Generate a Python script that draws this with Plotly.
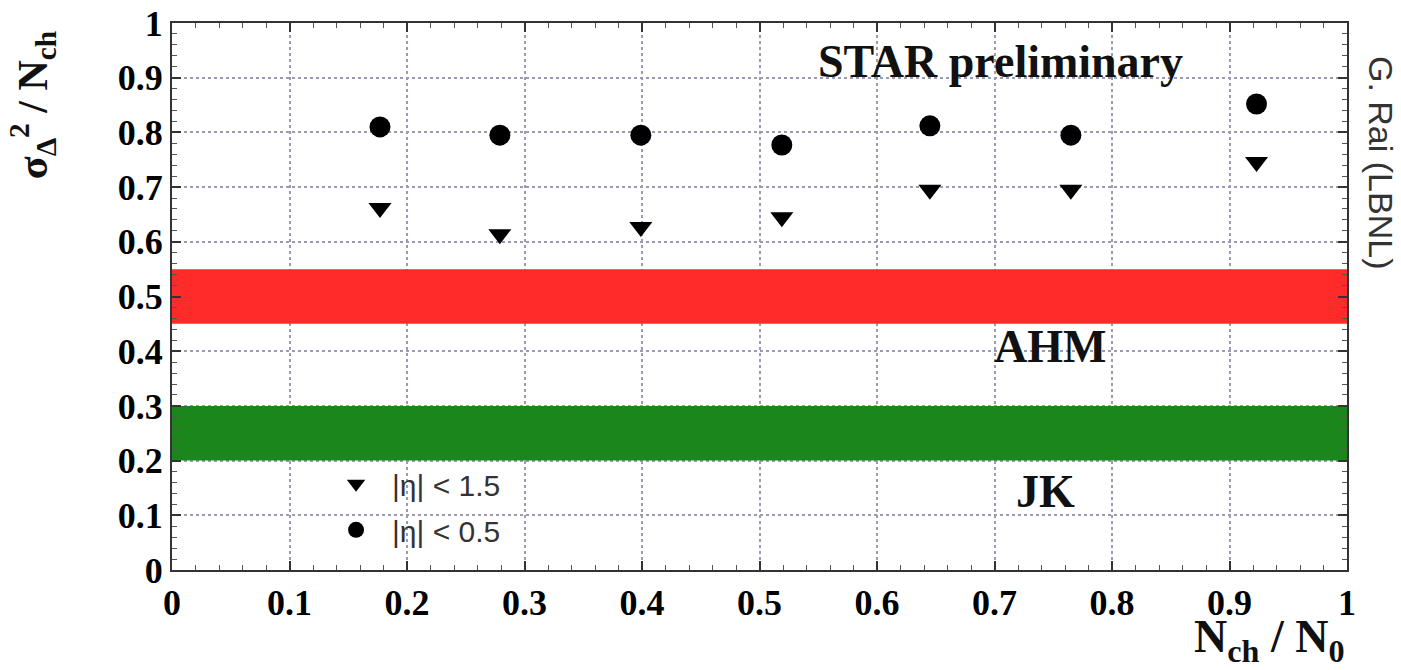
import plotly.graph_objects as go

# Data
n_ratio = [0.177, 0.279, 0.399, 0.519, 0.645, 0.765, 0.923]
eta15 = [0.662, 0.614, 0.627, 0.645, 0.695, 0.695, 0.746]   # |eta| < 1.5 (triangles)
eta05 = [0.810, 0.795, 0.795, 0.777, 0.812, 0.795, 0.852]   # |eta| < 0.5 (circles)

ahm_band = [0.45, 0.55]
jk_band = [0.20, 0.30]
tick_vals = [round(0.1 * i, 1) for i in range(11)]

SERIF = "Liberation Serif, Times New Roman, serif"
SANS = "Liberation Sans, Arial, sans-serif"

fig = go.Figure()
fig.add_trace(go.Scatter(
    x=n_ratio, y=eta15, mode="markers", name="|η| < 1.5", legendgroup="a",
    marker=dict(symbol="triangle-down", size=20, color="black"),
))
fig.add_trace(go.Scatter(
    x=n_ratio, y=eta05, mode="markers", name="|η| < 0.5", legendgroup="b",
    marker=dict(symbol="circle", size=21, color="black"),
))

fig.add_shape(type="rect", xref="x", yref="y", x0=0, x1=1,
              y0=ahm_band[0], y1=ahm_band[1], fillcolor="#ff2b2b",
              line=dict(width=0), layer="between")
fig.add_shape(type="rect", xref="x", yref="y", x0=0, x1=1,
              y0=jk_band[0], y1=jk_band[1], fillcolor="#1b861b",
              line=dict(width=0), layer="between")

axis_common = dict(
    range=[0, 1], tickvals=tick_vals, ticks="inside", ticklen=9,
    tickwidth=1.5, tickcolor="#333", automargin=False,
    showline=True, linecolor="#333", linewidth=2, mirror="ticks",
    showgrid=True, gridcolor="#9a9ab0", griddash="dot", gridwidth=1.5,
    zeroline=False,
    minor=dict(ticks="inside", dtick=0.02, ticklen=5, tickcolor="#555",
               tickwidth=1, showgrid=False),
    tickfont=dict(family=SERIF, size=36, color="black", weight="bold"),
)
fig.update_xaxes(**axis_common)
fig.update_yaxes(**axis_common)

annotations = [
    dict(text="<b>STAR preliminary</b>", x=0.705, y=0.93, xref="x", yref="y",
         xanchor="center", yanchor="middle",
         showarrow=False, font=dict(family=SERIF, size=46, color="#111")),
    dict(text="<b>AHM</b>", x=0.747, y=0.408, xref="x", yref="y",
         xanchor="center", yanchor="middle",
         showarrow=False, font=dict(family=SERIF, size=46, color="#111")),
    dict(text="<b>JK</b>", x=0.743, y=0.143, xref="x", yref="y",
         xanchor="center", yanchor="middle",
         showarrow=False, font=dict(family=SERIF, size=46, color="#111")),
    dict(text="G. Rai (LBNL)", x=1.029, y=0.744, xref="paper", yref="paper",
         xanchor="center", yanchor="middle",
         textangle=90, showarrow=False,
         font=dict(family=SANS, size=34, color="#333")),
    dict(text="<b>σ<sub>Δ</sub><sup>2</sup> / N<sub>ch</sub></b>",
         x=-0.119, y=0.85, xref="paper", yref="paper", textangle=-90,
         xanchor="center", yanchor="middle",
         showarrow=False, font=dict(family=SERIF, size=42, color="#111")),
    dict(text="<b>N<sub>ch</sub> / N<sub>0</sub></b>",
         x=1.0, y=-0.128, xref="paper", yref="paper", xanchor="right",
         yanchor="middle", showarrow=False,
         font=dict(family=SERIF, size=46, color="#111")),
]

fig.update_layout(
    width=1401, height=670,
    margin=dict(l=172, r=54, t=23, b=100),
    paper_bgcolor="white", plot_bgcolor="white",
    annotations=annotations,
    showlegend=True,
    legend=dict(x=0.126, y=0.205, xanchor="left", yanchor="top",
                bgcolor="rgba(0,0,0,0)", tracegroupgap=4,
                itemwidth=62,
                font=dict(family=SANS, size=30, color="#333"),
                itemsizing="trace"),
)

fig.write_html("out.html")
